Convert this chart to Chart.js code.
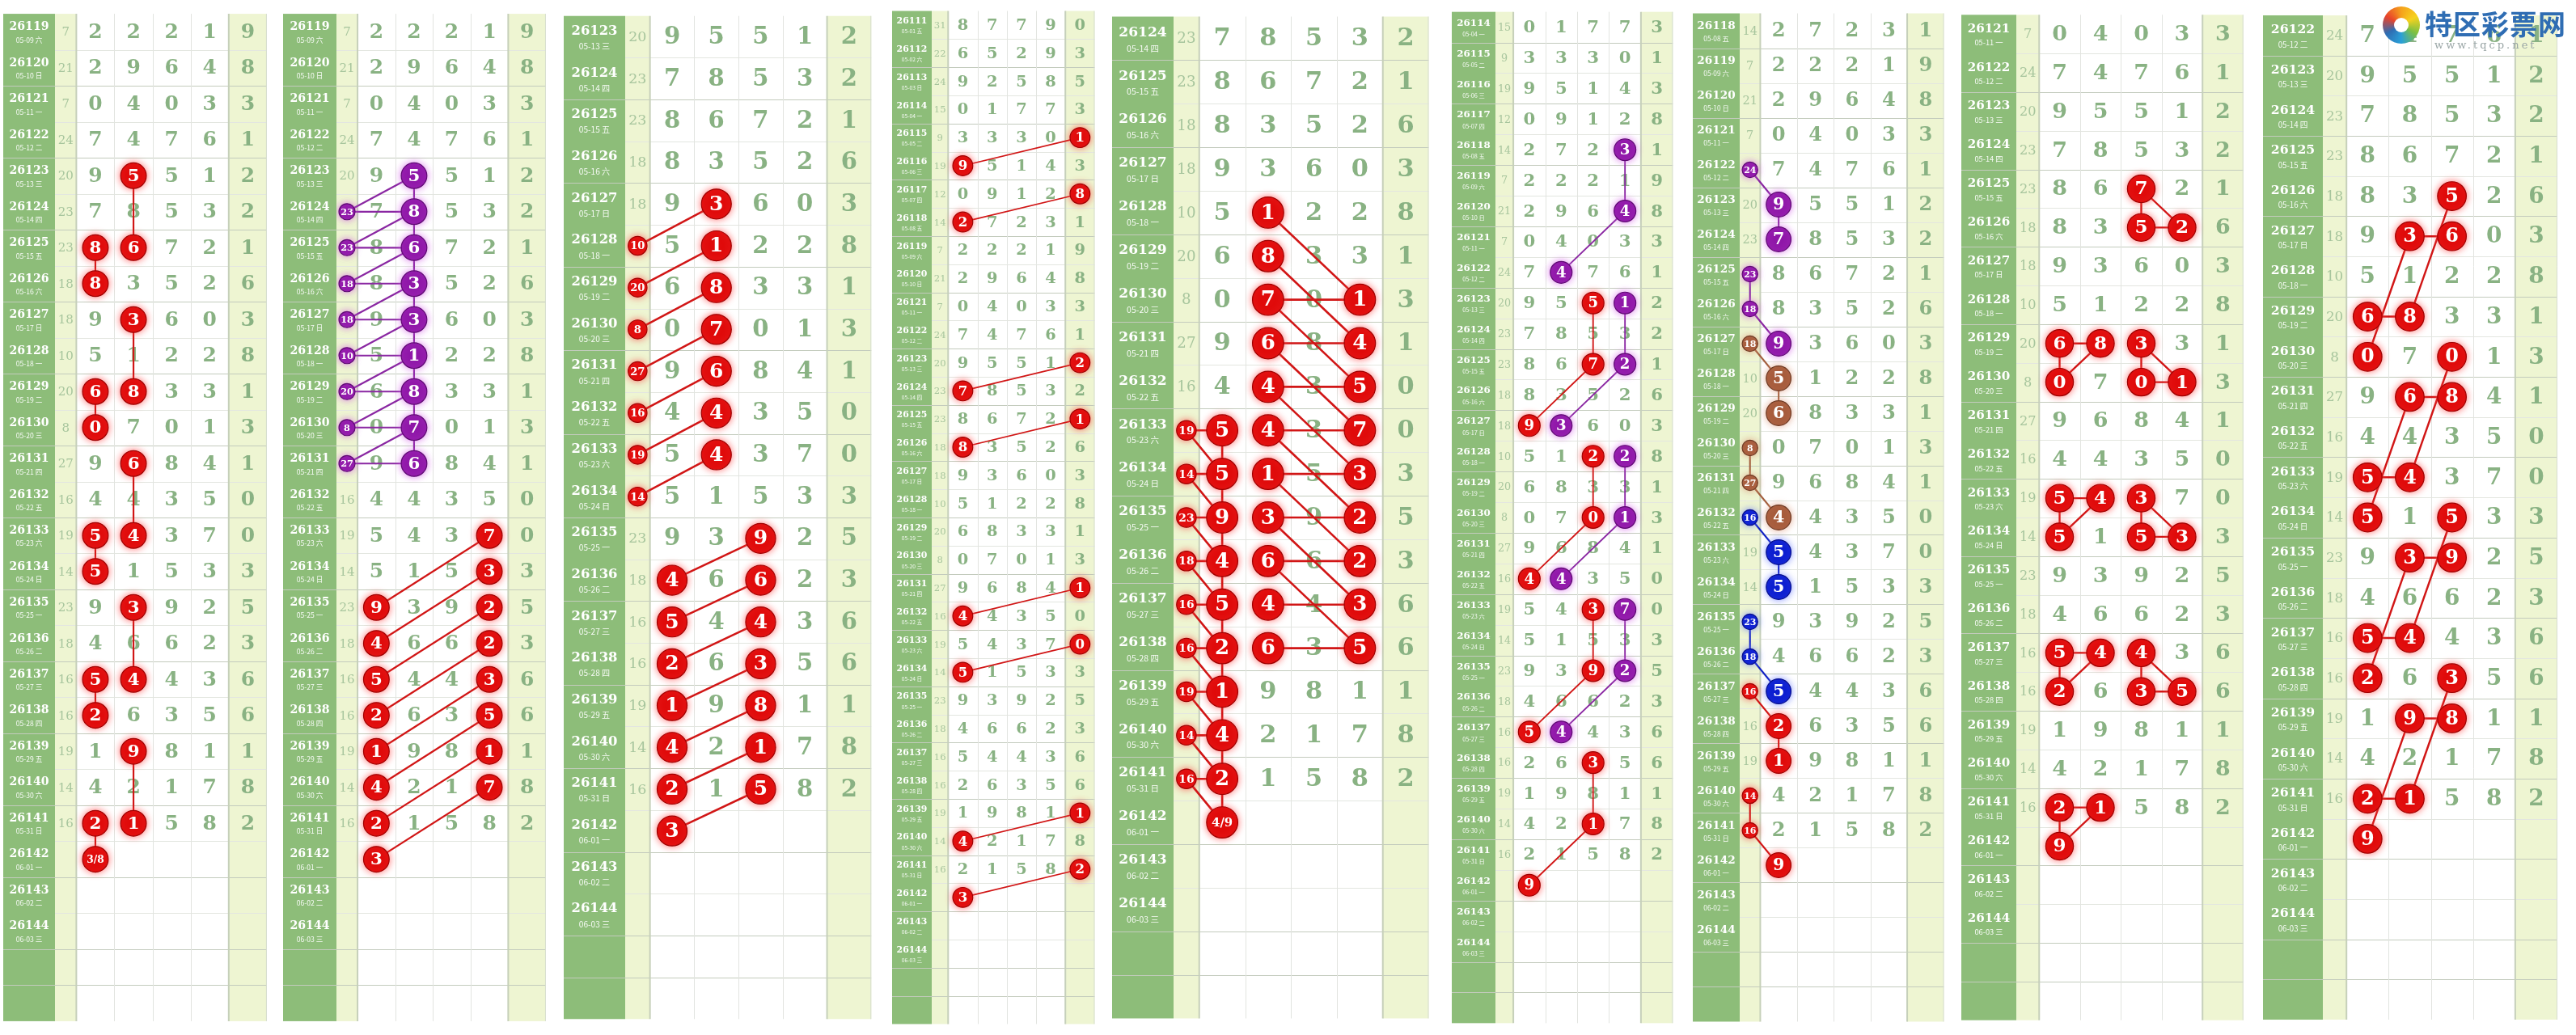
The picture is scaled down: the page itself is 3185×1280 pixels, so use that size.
<!DOCTYPE html>
<html>
<head>
<meta charset="utf-8">
<script src="https://cdn.jsdelivr.net/npm/chart.js@4.4.1/dist/chart.umd.min.js"></script>
<style>
  body { margin: 0; background: #fff; }
  #wrap { position: relative; width: 3185px; height: 1280px; overflow: hidden; background: #fff; }
  .panel { position: absolute; top: 0; height: 1280px; }
  #logo { position: absolute; left: 0; top: 0; width: 3185px; height: 80px; pointer-events: none; z-index: 5; }
  #logo .swirl { position: absolute; left: 2946px; top: 8px; width: 46px; height: 46px; border-radius: 50%;
    background: conic-gradient(#f5a21c, #f6d21e, #7cc043, #2aa0d8, #2f6db3, #e8432b, #f5a21c); }
  #logo .swirl::after { content: ''; position: absolute; left: 14px; top: 14px; width: 18px; height: 18px; border-radius: 50%; background: #fff; }
  #logo .t1 { position: absolute; left: 2998px; top: 4px; font: bold 34px "Noto Sans CJK SC", sans-serif; color: #2f6db3; letter-spacing: 1px; }
  #logo .t2 { position: absolute; left: 3010px; top: 48px; font: 13px "DejaVu Serif", serif; color: #9aa6a6; letter-spacing: 3px; }
</style>
</head>
<body>
<div id="wrap">
  <div id="logo"><div class="swirl"></div><div class="t1">特区彩票网</div><div class="t2">www.tqcp.net</div></div>
</div>
<script>
// periods 26111 - 26144, draws known up to 26141
const periods = [26111, 26112, 26113, 26114, 26115, 26116, 26117, 26118, 26119, 26120,
  26121, 26122, 26123, 26124, 26125, 26126, 26127, 26128, 26129, 26130,
  26131, 26132, 26133, 26134, 26135, 26136, 26137, 26138, 26139, 26140,
  26141, 26142, 26143, 26144];
const dates = ['05-01 五', '05-02 六', '05-03 日', '05-04 一', '05-05 二', '05-06 三', '05-07 四', '05-08 五',
  '05-09 六', '05-10 日', '05-11 一', '05-12 二', '05-13 三', '05-14 四', '05-15 五', '05-16 六',
  '05-17 日', '05-18 一', '05-19 二', '05-20 三', '05-21 四', '05-22 五', '05-23 六', '05-24 日',
  '05-25 一', '05-26 二', '05-27 三', '05-28 四', '05-29 五', '05-30 六', '05-31 日', '06-01 一',
  '06-02 二', '06-03 三'];
const d1 = [8, 6, 9, 0, 3, 9, 0, 2, 2, 2, 0, 7, 9, 7, 8, 8, 9, 5, 6, 0, 9, 4, 5, 5, 9, 4, 5, 2, 1, 4, 2];
const d2 = [7, 5, 2, 1, 3, 5, 9, 7, 2, 9, 4, 4, 5, 8, 6, 3, 3, 1, 8, 7, 6, 4, 4, 1, 3, 6, 4, 6, 9, 2, 1];
const d3 = [7, 2, 5, 7, 3, 1, 1, 2, 2, 6, 0, 7, 5, 5, 7, 5, 6, 2, 3, 0, 8, 3, 3, 5, 9, 6, 4, 3, 8, 1, 5];
const d4 = [9, 9, 8, 7, 0, 4, 2, 3, 1, 4, 3, 6, 1, 3, 2, 2, 0, 2, 3, 1, 4, 5, 7, 3, 2, 2, 3, 5, 1, 7, 8];
const d5 = [0, 3, 5, 3, 1, 3, 8, 1, 9, 8, 3, 1, 2, 2, 1, 6, 3, 8, 1, 3, 1, 0, 0, 3, 5, 3, 6, 6, 1, 8, 2];
const sums = [31, 22, 24, 15, 9, 19, 12, 14, 7, 21, 7, 24, 20, 23, 23, 18, 18, 10, 20, 8, 27, 16, 19, 14, 23, 18, 16, 16, 19, 14, 16];

// marks: [period, column (-1 = sum column, 0..4 = digit columns), text, kind]
// links: [period, column, period, column, kind]
const p1Marks = [[26123, 1, '5', 0], [26125, 1, '6', 0], [26125, 0, '8', 0], [26126, 0, '8', 0], [26127, 1, '3', 0],
  [26129, 1, '8', 0], [26129, 0, '6', 0], [26130, 0, '0', 0], [26131, 1, '6', 0], [26133, 1, '4', 0],
  [26133, 0, '5', 0], [26134, 0, '5', 0], [26135, 1, '3', 0], [26137, 1, '4', 0], [26137, 0, '5', 0],
  [26138, 0, '2', 0], [26139, 1, '9', 0], [26141, 1, '1', 0], [26141, 0, '2', 0], [26142, 0, '3/8', 0]];
const p1Links = [[26123, 1, 26125, 1, 0], [26125, 0, 26126, 0, 0], [26127, 1, 26129, 1, 0], [26129, 0, 26130, 0, 0],
  [26131, 1, 26133, 1, 0], [26133, 0, 26134, 0, 0], [26135, 1, 26137, 1, 0], [26137, 0, 26138, 0, 0],
  [26139, 1, 26141, 1, 0], [26141, 0, 26142, 0, 0]];

const p2Marks = [[26123, 1, '5', 1], [26124, 1, '8', 1], [26125, 1, '6', 1], [26126, 1, '3', 1], [26127, 1, '3', 1],
  [26128, 1, '1', 1], [26129, 1, '8', 1], [26130, 1, '7', 1], [26131, 1, '6', 1],
  [26124, -1, '23', 1], [26125, -1, '23', 1], [26126, -1, '18', 1], [26127, -1, '18', 1], [26128, -1, '10', 1],
  [26129, -1, '20', 1], [26130, -1, '8', 1], [26131, -1, '27', 1],
  [26133, 3, '7', 0], [26134, 3, '3', 0], [26135, 3, '2', 0], [26136, 3, '2', 0], [26137, 3, '3', 0],
  [26138, 3, '5', 0], [26139, 3, '1', 0], [26140, 3, '7', 0],
  [26135, 0, '9', 0], [26136, 0, '4', 0], [26137, 0, '5', 0], [26138, 0, '2', 0], [26139, 0, '1', 0],
  [26140, 0, '4', 0], [26141, 0, '2', 0], [26142, 0, '3', 0]];
const p2Links = [[26123, 1, 26131, 1, 1],
  [26124, -1, 26124, 1, 1], [26124, -1, 26123, 1, 1], [26125, -1, 26125, 1, 1], [26125, -1, 26124, 1, 1],
  [26126, -1, 26126, 1, 1], [26126, -1, 26125, 1, 1], [26127, -1, 26127, 1, 1], [26127, -1, 26126, 1, 1],
  [26128, -1, 26128, 1, 1], [26128, -1, 26127, 1, 1], [26129, -1, 26129, 1, 1], [26129, -1, 26128, 1, 1],
  [26130, -1, 26130, 1, 1], [26130, -1, 26129, 1, 1], [26131, -1, 26131, 1, 1], [26131, -1, 26130, 1, 1],
  [26133, 3, 26135, 0, 0], [26134, 3, 26136, 0, 0], [26135, 3, 26137, 0, 0], [26136, 3, 26138, 0, 0],
  [26137, 3, 26139, 0, 0], [26138, 3, 26140, 0, 0], [26139, 3, 26141, 0, 0], [26140, 3, 26142, 0, 0]];

const p3Marks = [[26128, -1, '10', 0], [26129, -1, '20', 0], [26130, -1, '8', 0], [26131, -1, '27', 0],
  [26132, -1, '16', 0], [26133, -1, '19', 0], [26134, -1, '14', 0],
  [26127, 1, '3', 0], [26128, 1, '1', 0], [26129, 1, '8', 0], [26130, 1, '7', 0], [26131, 1, '6', 0],
  [26132, 1, '4', 0], [26133, 1, '4', 0],
  [26135, 2, '9', 0], [26136, 2, '6', 0], [26137, 2, '4', 0], [26138, 2, '3', 0], [26139, 2, '8', 0],
  [26140, 2, '1', 0], [26141, 2, '5', 0],
  [26136, 0, '4', 0], [26137, 0, '5', 0], [26138, 0, '2', 0], [26139, 0, '1', 0], [26140, 0, '4', 0],
  [26141, 0, '2', 0], [26142, 0, '3', 0]];
const p3Links = [[26128, -1, 26127, 1, 0], [26129, -1, 26128, 1, 0], [26130, -1, 26129, 1, 0], [26131, -1, 26130, 1, 0],
  [26132, -1, 26131, 1, 0], [26133, -1, 26132, 1, 0], [26134, -1, 26133, 1, 0],
  [26135, 2, 26136, 0, 0], [26136, 2, 26137, 0, 0], [26137, 2, 26138, 0, 0], [26138, 2, 26139, 0, 0],
  [26139, 2, 26140, 0, 0], [26140, 2, 26141, 0, 0], [26141, 2, 26142, 0, 0]];

const p4Marks = [[26115, 4, '1', 0], [26116, 0, '9', 0], [26117, 4, '8', 0], [26118, 0, '2', 0],
  [26123, 4, '2', 0], [26124, 0, '7', 0], [26125, 4, '1', 0], [26126, 0, '8', 0],
  [26131, 4, '1', 0], [26132, 0, '4', 0], [26133, 4, '0', 0], [26134, 0, '5', 0],
  [26139, 4, '1', 0], [26140, 0, '4', 0], [26141, 4, '2', 0], [26142, 0, '3', 0]];
const p4Links = [[26115, 4, 26116, 0, 0], [26117, 4, 26118, 0, 0], [26123, 4, 26124, 0, 0], [26125, 4, 26126, 0, 0],
  [26131, 4, 26132, 0, 0], [26133, 4, 26134, 0, 0], [26139, 4, 26140, 0, 0], [26141, 4, 26142, 0, 0]];

const p5Marks = [[26128, 1, '1', 0], [26129, 1, '8', 0], [26130, 1, '7', 0], [26131, 1, '6', 0], [26132, 1, '4', 0],
  [26133, 1, '4', 0], [26134, 1, '1', 0], [26135, 1, '3', 0], [26136, 1, '6', 0], [26137, 1, '4', 0], [26138, 1, '6', 0],
  [26130, 3, '1', 0], [26131, 3, '4', 0], [26132, 3, '5', 0], [26133, 3, '7', 0], [26134, 3, '3', 0],
  [26135, 3, '2', 0], [26136, 3, '2', 0], [26137, 3, '3', 0], [26138, 3, '5', 0],
  [26133, -1, '19', 0], [26134, -1, '14', 0], [26135, -1, '23', 0], [26136, -1, '18', 0], [26137, -1, '16', 0],
  [26138, -1, '16', 0], [26139, -1, '19', 0], [26140, -1, '14', 0], [26141, -1, '16', 0],
  [26133, 0, '5', 0], [26134, 0, '5', 0], [26135, 0, '9', 0], [26136, 0, '4', 0], [26137, 0, '5', 0],
  [26138, 0, '2', 0], [26139, 0, '1', 0], [26140, 0, '4', 0], [26141, 0, '2', 0], [26142, 0, '4/9', 0]];
const p5Links = [[26128, 1, 26130, 3, 0], [26129, 1, 26131, 3, 0], [26130, 1, 26132, 3, 0], [26131, 1, 26133, 3, 0],
  [26132, 1, 26134, 3, 0], [26133, 1, 26135, 3, 0], [26134, 1, 26136, 3, 0], [26135, 1, 26137, 3, 0], [26136, 1, 26138, 3, 0],
  [26130, 1, 26130, 3, 0], [26131, 1, 26131, 3, 0], [26132, 1, 26132, 3, 0], [26133, 1, 26133, 3, 0], [26134, 1, 26134, 3, 0],
  [26135, 1, 26135, 3, 0], [26136, 1, 26136, 3, 0], [26137, 1, 26137, 3, 0], [26138, 1, 26138, 3, 0],
  [26133, -1, 26133, 0, 0], [26134, -1, 26134, 0, 0], [26135, -1, 26135, 0, 0], [26136, -1, 26136, 0, 0], [26137, -1, 26137, 0, 0],
  [26138, -1, 26138, 0, 0], [26139, -1, 26139, 0, 0], [26140, -1, 26140, 0, 0], [26141, -1, 26141, 0, 0],
  [26133, -1, 26134, 0, 0], [26134, -1, 26135, 0, 0], [26135, -1, 26136, 0, 0], [26136, -1, 26137, 0, 0], [26137, -1, 26138, 0, 0],
  [26138, -1, 26139, 0, 0], [26139, -1, 26140, 0, 0], [26140, -1, 26141, 0, 0], [26141, -1, 26142, 0, 0],
  [26133, 0, 26142, 0, 0]];

const p6Marks = [[26118, 3, '3', 1], [26120, 3, '4', 1], [26122, 1, '4', 1],
  [26123, 2, '5', 0], [26125, 2, '7', 0], [26127, 0, '9', 0],
  [26123, 3, '1', 1], [26125, 3, '2', 1], [26127, 1, '3', 1],
  [26128, 2, '2', 0], [26130, 2, '0', 0], [26132, 0, '4', 0],
  [26128, 3, '2', 1], [26130, 3, '1', 1], [26132, 1, '4', 1],
  [26133, 2, '3', 0], [26135, 2, '9', 0], [26137, 0, '5', 0],
  [26133, 3, '7', 1], [26135, 3, '2', 1], [26137, 1, '4', 1],
  [26138, 2, '3', 0], [26140, 2, '1', 0], [26142, 0, '9', 0]];
const p6Links = [[26118, 3, 26120, 3, 1], [26120, 3, 26122, 1, 1],
  [26123, 2, 26125, 2, 0], [26125, 2, 26127, 0, 0], [26123, 3, 26125, 3, 1], [26125, 3, 26127, 1, 1],
  [26128, 2, 26130, 2, 0], [26130, 2, 26132, 0, 0], [26128, 3, 26130, 3, 1], [26130, 3, 26132, 1, 1],
  [26133, 2, 26135, 2, 0], [26135, 2, 26137, 0, 0], [26133, 3, 26135, 3, 1], [26135, 3, 26137, 1, 1],
  [26138, 2, 26140, 2, 0], [26140, 2, 26142, 0, 0]];

const p7Marks = [[26122, -1, '24', 1], [26123, 0, '9', 1], [26124, 0, '7', 1], [26125, -1, '23', 1], [26126, -1, '18', 1], [26127, 0, '9', 1],
  [26127, -1, '18', 2], [26128, 0, '5', 2], [26129, 0, '6', 2], [26130, -1, '8', 2], [26131, -1, '27', 2], [26132, 0, '4', 2],
  [26132, -1, '16', 3], [26133, 0, '5', 3], [26134, 0, '5', 3], [26135, -1, '23', 3], [26136, -1, '18', 3], [26137, 0, '5', 3],
  [26137, -1, '16', 0], [26138, 0, '2', 0], [26139, 0, '1', 0], [26140, -1, '14', 0], [26141, -1, '16', 0], [26142, 0, '9', 0]];
const p7Links = [[26122, -1, 26123, 0, 1], [26123, 0, 26124, 0, 1], [26125, -1, 26126, -1, 1], [26126, -1, 26127, 0, 1],
  [26127, -1, 26128, 0, 2], [26128, 0, 26129, 0, 2], [26130, -1, 26131, -1, 2], [26131, -1, 26132, 0, 2],
  [26132, -1, 26133, 0, 3], [26133, 0, 26134, 0, 3], [26135, -1, 26136, -1, 3], [26136, -1, 26137, 0, 3],
  [26137, -1, 26138, 0, 0], [26138, 0, 26139, 0, 0], [26140, -1, 26141, -1, 0], [26141, -1, 26142, 0, 0]];

const p8Marks = [[26125, 2, '7', 0], [26126, 2, '5', 0], [26126, 3, '2', 0],
  [26129, 0, '6', 0], [26129, 1, '8', 0], [26130, 0, '0', 0],
  [26129, 2, '3', 0], [26130, 2, '0', 0], [26130, 3, '1', 0],
  [26133, 0, '5', 0], [26133, 1, '4', 0], [26134, 0, '5', 0],
  [26133, 2, '3', 0], [26134, 2, '5', 0], [26134, 3, '3', 0],
  [26137, 0, '5', 0], [26137, 1, '4', 0], [26138, 0, '2', 0],
  [26137, 2, '4', 0], [26138, 2, '3', 0], [26138, 3, '5', 0],
  [26141, 0, '2', 0], [26141, 1, '1', 0], [26142, 0, '9', 0]];
const p8Links = [[26125, 2, 26126, 2, 0], [26125, 2, 26126, 3, 0], [26126, 2, 26126, 3, 0],
  [26129, 0, 26129, 1, 0], [26129, 0, 26130, 0, 0], [26130, 0, 26129, 1, 0],
  [26129, 2, 26130, 2, 0], [26129, 2, 26130, 3, 0], [26130, 2, 26130, 3, 0],
  [26133, 0, 26133, 1, 0], [26133, 0, 26134, 0, 0], [26134, 0, 26133, 1, 0],
  [26133, 2, 26134, 2, 0], [26133, 2, 26134, 3, 0], [26134, 2, 26134, 3, 0],
  [26137, 0, 26137, 1, 0], [26137, 0, 26138, 0, 0], [26138, 0, 26137, 1, 0],
  [26137, 2, 26138, 2, 0], [26137, 2, 26138, 3, 0], [26138, 2, 26138, 3, 0],
  [26141, 0, 26141, 1, 0], [26141, 0, 26142, 0, 0], [26142, 0, 26141, 1, 0]];

const p9Marks = [[26126, 2, '5', 0], [26127, 1, '3', 0], [26127, 2, '6', 0], [26129, 0, '6', 0], [26129, 1, '8', 0], [26130, 0, '0', 0],
  [26130, 2, '0', 0], [26131, 1, '6', 0], [26131, 2, '8', 0], [26133, 0, '5', 0], [26133, 1, '4', 0], [26134, 0, '5', 0],
  [26134, 2, '5', 0], [26135, 1, '3', 0], [26135, 2, '9', 0], [26137, 0, '5', 0], [26137, 1, '4', 0], [26138, 0, '2', 0],
  [26138, 2, '3', 0], [26139, 1, '9', 0], [26139, 2, '8', 0], [26141, 0, '2', 0], [26141, 1, '1', 0], [26142, 0, '9', 0]];
const p9Links = [[26126, 2, 26129, 1, 0], [26127, 1, 26127, 2, 0], [26127, 1, 26130, 0, 0], [26129, 0, 26129, 1, 0],
  [26130, 2, 26133, 1, 0], [26131, 1, 26131, 2, 0], [26131, 1, 26134, 0, 0], [26133, 0, 26133, 1, 0],
  [26134, 2, 26137, 1, 0], [26135, 1, 26135, 2, 0], [26135, 1, 26138, 0, 0], [26137, 0, 26137, 1, 0],
  [26138, 2, 26141, 1, 0], [26139, 1, 26139, 2, 0], [26139, 1, 26142, 0, 0], [26141, 0, 26141, 1, 0]];

// layout of the nine panels (pixels)
const panelDefs = [
  { left: 4, right: 347, labelW: 64, first: 26119, marks: p1Marks, links: p1Links },
  { left: 350, right: 692, labelW: 66, first: 26119, marks: p2Marks, links: p2Links },
  { left: 697, right: 1097, labelW: 76, first: 26123, marks: p3Marks, links: p3Links },
  { left: 1103, right: 1367, labelW: 49, first: 26111, marks: p4Marks, links: p4Links },
  { left: 1375, right: 1787, labelW: 76, first: 26124, marks: p5Marks, links: p5Links },
  { left: 1795, right: 2083, labelW: 54, first: 26114, marks: p6Marks, links: p6Links },
  { left: 2093, right: 2420, labelW: 58, first: 26118, marks: p7Marks, links: p7Links },
  { left: 2425, right: 2792, labelW: 68, first: 26121, marks: p8Marks, links: p8Links },
  { left: 2798, right: 3181, labelW: 74, first: 26122, marks: p9Marks, links: p9Links }
];

const kindFill = ['#e00b0b', '#8f17a8', '#a65b3b', '#0c1ed0'];
const kindEdge = ['#9e0000', '#5e0a72', '#6e3a24', '#060e8a'];
const kindLine = ['#d11616', '#8a27a2', '#a3603f', '#1424c4'];
const kindGlow = ['rgba(255,70,70,0.75)', 'rgba(210,90,230,0.75)', 'rgba(220,150,120,0.75)', 'rgba(90,110,255,0.7)'];
const sumW = 0.56;
const serif = '"DejaVu Serif", serif';
const padTop = 2, padBottom = 8;

function colX(c) { return c < 0 ? -sumW / 2 : c + 0.5; }

function makePlugin(def, nRows, rowH) {
  const firstIdx = periods.indexOf(def.first);
  return {
    id: 'cells',
    beforeDraw(chart) {
      const { ctx, chartArea: a, scales: { x, y } } = chart;
      const top = y.getPixelForValue(-0.5), bot = y.getPixelForValue(nRows - 0.5);
      ctx.save();
      ctx.fillStyle = '#8dbd79';
      ctx.fillRect(0, top, a.left, bot - top);
      ctx.fillStyle = '#eef5d2';
      const s0 = x.getPixelForValue(-sumW), s1 = x.getPixelForValue(0);
      ctx.fillRect(s0, top, s1 - s0, bot - top);
      const l0 = x.getPixelForValue(4), l1 = x.getPixelForValue(5);
      ctx.fillRect(l0, top, l1 - l0, bot - top);
      // row lines
      for (let i = 1; i < nRows; i++) {
        const yy = Math.round(y.getPixelForValue(i - 0.5)) + 0.5;
        const strong = (periods[firstIdx + i - 1] || 0) % 2 === 0;
        ctx.strokeStyle = strong ? '#c3cbbd' : '#e3e6e0';
        ctx.lineWidth = 1;
        ctx.beginPath();
        ctx.moveTo(strong ? 0 : a.left, yy);
        ctx.lineTo(a.right, yy);
        ctx.stroke();
      }
      // column lines
      for (let c = 1; c < 4; c++) {
        const xx = Math.round(x.getPixelForValue(c)) + 0.5;
        ctx.strokeStyle = '#e2e4e0';
        ctx.beginPath(); ctx.moveTo(xx, top); ctx.lineTo(xx, bot); ctx.stroke();
      }
      ctx.strokeStyle = '#c6d0ba';
      ctx.lineWidth = 2;
      [0, 4].forEach(c => {
        const xx = x.getPixelForValue(c);
        ctx.beginPath(); ctx.moveTo(xx, top); ctx.lineTo(xx, bot); ctx.stroke();
      });
      ctx.lineWidth = 1;
      ctx.strokeStyle = '#d6ddd0';
      ctx.beginPath(); ctx.moveTo(a.right - 0.5, top); ctx.lineTo(a.right - 0.5, bot); ctx.stroke();
      ctx.restore();
    },
    beforeDatasetsDraw(chart) {
      const { ctx, chartArea: a, scales: { x, y } } = chart;
      ctx.save();
      ctx.textAlign = 'center';
      ctx.textBaseline = 'middle';
      for (let i = 0; i < nRows; i++) {
        const k = firstIdx + i;
        const yy = y.getPixelForValue(i);
        if (k < periods.length) {
          ctx.fillStyle = '#ffffff';
          ctx.font = 'bold ' + (rowH * 0.31).toFixed(1) + 'px ' + serif;
          ctx.fillText(String(periods[k]), a.left / 2, yy - rowH * 0.13);
          ctx.fillStyle = 'rgba(255,255,255,0.92)';
          ctx.font = (rowH * 0.19).toFixed(1) + 'px "Noto Sans CJK SC", sans-serif';
          ctx.fillText(dates[k], a.left / 2, yy + rowH * 0.22);
        }
        if (k < sums.length) {
          ctx.fillStyle = '#a7c59d';
          ctx.font = (rowH * 0.33).toFixed(1) + 'px ' + serif;
          ctx.fillText(String(sums[k]), x.getPixelForValue(colX(-1)), yy + 1);
          ctx.fillStyle = '#89b283';
          ctx.font = 'bold ' + (rowH * 0.55).toFixed(1) + 'px ' + serif;
          [d1, d2, d3, d4, d5].forEach((d, c) => {
            ctx.fillText(String(d[k]), x.getPixelForValue(colX(c)), yy + 1);
          });
        }
      }
      ctx.restore();
    },
    beforeDatasetDraw(chart, args) {
      const ds = chart.data.datasets[args.index];
      chart.ctx.save();
      if (ds.glow) {
        chart.ctx.shadowColor = ds.glow;
        chart.ctx.shadowBlur = 8;
      }
    },
    afterDatasetDraw(chart) {
      chart.ctx.restore();
    },
    afterDatasetsDraw(chart) {
      const { ctx, scales: { x, y } } = chart;
      ctx.save();
      ctx.textAlign = 'center';
      ctx.textBaseline = 'middle';
      ctx.fillStyle = '#ffffff';
      def.marks.forEach(m => {
        const small = m[1] < 0;
        let size = small ? rowH * 0.25 : rowH * 0.47;
        if (m[2].length > 2) size = rowH * 0.27;
        ctx.font = 'bold ' + size.toFixed(1) + 'px ' + serif;
        const row = periods.indexOf(m[0]) - firstIdx;
        ctx.fillText(m[2], x.getPixelForValue(colX(m[1])), y.getPixelForValue(row) + 1);
      });
      ctx.restore();
    }
  };
}

const wrap = document.getElementById('wrap');

panelDefs.forEach(def => {
  const firstIdx = periods.indexOf(def.first);
  const nRows = periods.length - firstIdx + 2;
  const rowH = (1280 - padTop - padBottom) / nRows;
  const rowOf = p => periods.indexOf(p) - firstIdx;

  const div = document.createElement('div');
  div.className = 'panel';
  div.style.left = def.left + 'px';
  div.style.width = (def.right - def.left) + 'px';
  const canvas = document.createElement('canvas');
  div.appendChild(canvas);
  wrap.appendChild(div);

  const datasets = [];
  def.links.forEach(l => {
    datasets.push({
      data: [{ x: colX(l[1]), y: rowOf(l[0]) }, { x: colX(l[3]), y: rowOf(l[2]) }],
      showLine: true,
      borderColor: kindLine[l[4]],
      borderWidth: Math.max(1.6, rowH * 0.048),
      pointRadius: 0,
      order: 3
    });
  });
  [0, 1, 2, 3].forEach(kind => {
    const pts = def.marks.filter(m => m[3] === kind)
      .map(m => ({ x: colX(m[1]), y: rowOf(m[0]), small: m[1] < 0 }));
    if (!pts.length) return;
    datasets.push({
      data: pts,
      pointRadius: ctx => (ctx.raw && ctx.raw.small ? rowH * 0.22 : rowH * 0.35),
      pointBackgroundColor: kindFill[kind],
      pointBorderColor: kindEdge[kind],
      pointBorderWidth: 1.2,
      glow: kindGlow[kind],
      order: 1
    });
  });

  new Chart(canvas, {
    type: 'scatter',
    data: { datasets },
    options: {
      responsive: true,
      maintainAspectRatio: false,
      animation: false,
      devicePixelRatio: 1,
      events: [],
      layout: { padding: { left: def.labelW, top: padTop, bottom: padBottom, right: 0 } },
      plugins: { legend: { display: false }, tooltip: { enabled: false } },
      scales: {
        x: { type: 'linear', min: -sumW, max: 5, display: false },
        y: { type: 'linear', min: -0.5, max: nRows - 0.5, reverse: true, display: false }
      }
    },
    plugins: [makePlugin(def, nRows, rowH)]
  });
});
</script>
</body>
</html>
